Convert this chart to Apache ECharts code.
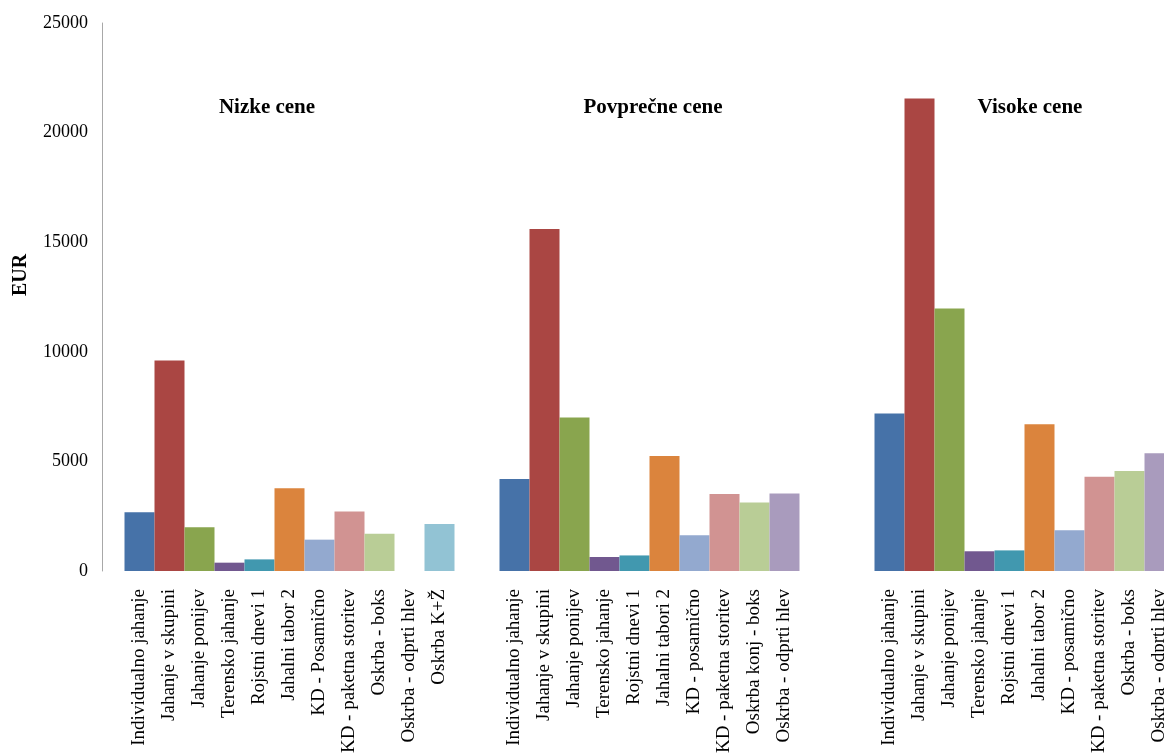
<!DOCTYPE html>
<html>
<head>
<meta charset="utf-8">
<script src="https://cdn.jsdelivr.net/npm/echarts@6/dist/echarts.min.js"></script>
<style>
  html, body { margin: 0; padding: 0; background: #fff; overflow: hidden; }
  /* graf je na desni odrezan, kot v izvirniku */
  #wrap { width: 1164px; height: 755px; overflow: hidden; }
  #chart { width: 1230px; height: 755px; }
</style>
</head>
<body>
<div id="wrap"><div id="chart"></div></div>
<script>
// skupine cen (kategorije)
var groups = ['Nizke cene', 'Povprečne cene', 'Visoke cene'];

// napisi pod stolpci, po skupinah
var labelsNizke = ['Individualno jahanje', 'Jahanje v skupini', 'Jahanje ponijev', 'Terensko jahanje',
  'Rojstni dnevi 1', 'Jahalni tabor 2', 'KD - Posamično', 'KD - paketna storitev',
  'Oskrba - boks', 'Oskrba - odprti hlev', 'Oskrba K+Ž'];
var labelsPovprecne = ['Individualno jahanje', 'Jahanje v skupini', 'Jahanje ponijev', 'Terensko jahanje',
  'Rojstni dnevi 1', 'Jahalni tabori 2', 'KD - posamično', 'KD - paketna storitev',
  'Oskrba konj - boks', 'Oskrba - odprti hlev', ''];
var labelsVisoke = ['Individualno jahanje', 'Jahanje v skupini', 'Jahanje ponijev', 'Terensko jahanje',
  'Rojstni dnevi 1', 'Jahalni tabor 2', 'KD - posamično', 'KD - paketna storitev',
  'Oskrba - boks', 'Oskrba - odprti hlev', ''];

// vrednosti v EUR
var valuesNizke = [2680, 9600, 2000, 380, 530, 3770, 1430, 2720, 1700, 0, 2140];
var valuesPovprecne = [4200, 15600, 7000, 640, 710, 5250, 1630, 3510, 3130, 3540, null];
var valuesVisoke = [7190, 21560, 11980, 900, 940, 6690, 1860, 4300, 4560, 5370, null];

var colors = ['#4672A8', '#AA4643', '#89A54E', '#71588F', '#4198AF', '#DB843D',
  '#93A9CF', '#D19392', '#B9CD96', '#A99BBD', '#92C3D4'];

var FONT = 'Liberation Serif';

var chart = echarts.init(document.getElementById('chart'));

var allLabels = [labelsNizke, labelsPovprecne, labelsVisoke];
var series = [];
for (var i = 0; i < colors.length; i++) {
  series.push({
    type: 'bar',
    name: labelsPovprecne[i] || labelsNizke[i],
    data: [valuesNizke[i], valuesPovprecne[i], valuesVisoke[i]],
    barGap: 0,
    barCategoryGap: '12%',
    itemStyle: { color: colors[i] },
    label: {
      show: true,
      position: 'bottom',
      distance: 18,
      rotate: 90,
      align: 'right',
      verticalAlign: 'middle',
      fontFamily: FONT,
      fontSize: 19,
      color: '#000',
      formatter: function (p) {
        return allLabels[p.dataIndex][p.seriesIndex];
      }
    }
  });
}

var option = {
  animation: false,
  backgroundColor: '#fff',
  textStyle: { fontFamily: FONT },
  title: [
    { text: groups[0], left: 262, top: 92, textAlign: 'center',
      textStyle: { fontFamily: FONT, fontSize: 21, fontWeight: 'bold', color: '#000' } },
    { text: groups[1], left: 648, top: 92, textAlign: 'center',
      textStyle: { fontFamily: FONT, fontSize: 21, fontWeight: 'bold', color: '#000' } },
    { text: groups[2], left: 1025, top: 92, textAlign: 'center',
      textStyle: { fontFamily: FONT, fontSize: 21, fontWeight: 'bold', color: '#000' } }
  ],
  graphic: [{
    type: 'text',
    x: 21, y: 275,
    rotation: Math.PI / 2,
    style: {
      text: 'EUR',
      font: 'bold 20px "Liberation Serif"',
      fill: '#000',
      align: 'center',
      verticalAlign: 'middle'
    }
  }],
  grid: { left: 102, top: 23, right: 3, bottom: 184, containLabel: false },
  xAxis: {
    type: 'category',
    data: groups,
    axisLine: { show: false },
    axisTick: { show: false },
    axisLabel: { show: false }
  },
  yAxis: {
    type: 'value',
    min: 0,
    max: 25000,
    interval: 5000,
    axisLine: { show: true, lineStyle: { color: '#a8a8a8', width: 1 } },
    axisTick: { show: false },
    splitLine: { show: false },
    axisLabel: {
      margin: 14, fontFamily: FONT, fontSize: 18, color: '#000',
      formatter: function (v) { return String(v); }
    }
  },
  series: series
};

chart.setOption(option);
</script>
</body>
</html>
